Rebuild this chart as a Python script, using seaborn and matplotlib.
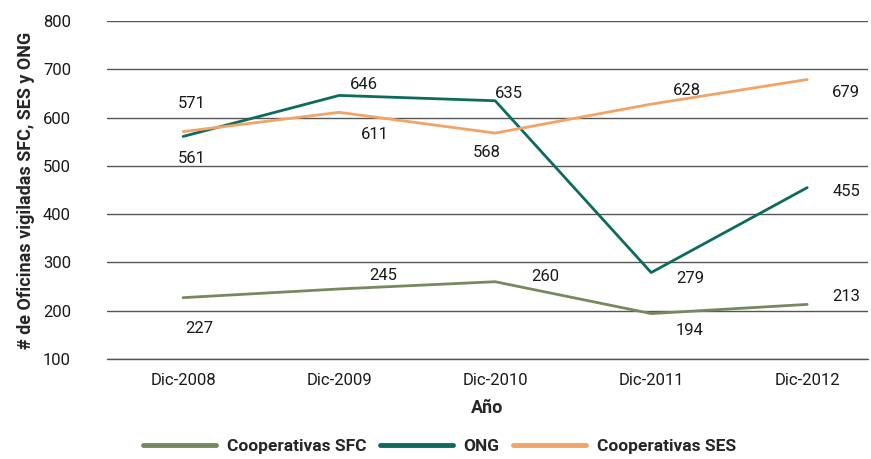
import numpy as np
import pandas as pd
import matplotlib
matplotlib.use('Agg')
import matplotlib.pyplot as plt
import seaborn as sns

# data
years = ['Dic-2008', 'Dic-2009', 'Dic-2010', 'Dic-2011', 'Dic-2012']
sfc = [227, 245, 260, 194, 213]
ong = [561, 646, 635, 279, 455]
ses = [571, 611, 568, 628, 679]
series_names = ['Cooperativas SFC', 'ONG', 'Cooperativas SES']

colors = ['#75895f', '#0d6b5d', '#f2a366']

sns.set_style('white')
plt.rcParams['font.family'] = ['Roboto', 'DejaVu Sans']

df = pd.DataFrame({
    'Año': years * 3,
    'valor': sfc + ong + ses,
    'serie': [series_names[0]] * 5 + [series_names[1]] * 5 + [series_names[2]] * 5,
})
df['x'] = df['Año'].map({y: i for i, y in enumerate(years)})

fig = plt.figure(figsize=(8.71, 4.59), dpi=100)
ax = fig.add_axes([0.123, 0.218, 0.8736, 0.736])

sns.lineplot(data=df, x='x', y='valor', hue='serie', palette=colors,
             linewidth=2, ax=ax, legend=True)

ax.set_ylim(100, 800)
ax.set_xlim(-0.487, 4.39)
ax.set_yticks(range(100, 801, 100))
ax.set_xticks(range(len(years)))
ax.set_xticklabels(years)
ax.yaxis.grid(True, color='#555555', linewidth=1)
ax.axhline(100, color='#555555', linewidth=1, clip_on=False, zorder=0)
ax.set_axisbelow(True)
for s in ax.spines.values():
    s.set_visible(False)
ax.tick_params(axis='both', length=0, labelsize=12, colors='#1a1a1a')
ax.tick_params(axis='y', pad=26)
ax.tick_params(axis='x', pad=10)

ax.set_xlabel('Año', fontsize=13, fontweight='bold', labelpad=8)
ax.set_ylabel('# de Oficinas vigiladas SFC, SES y ONG', fontsize=13,
              fontweight='bold', labelpad=6)

# labels offsets (points)
offsets = {
    0: [(12, -22), (32, 10), (36, 4), (28, -12), (28, 6)],
    1: [(6, -16), (18, 8), (10, 5), (28, -4), (28, -3)],
    2: [(6, 20), (26, -16), (-6, -14), (26, 10), (28, -9)],
}
for k, vals in enumerate([sfc, ong, ses]):
    for i, v in enumerate(vals):
        ax.annotate(str(v), (i, v), xytext=offsets[k][i], textcoords='offset points',
                    ha='center', va='center', fontsize=12, color='#1a1a1a')

h, l = ax.get_legend_handles_labels()
for hh in h:
    hh.set_linewidth(3.5)
leg = ax.legend(h, l, loc='center', bbox_to_anchor=(0.437, -0.26), ncol=3,
                frameon=False, handlelength=4.2, columnspacing=0.8,
                handletextpad=0.6, prop={'size': 12.5, 'weight': 'bold'})

fig.savefig('out.png', dpi=100)
